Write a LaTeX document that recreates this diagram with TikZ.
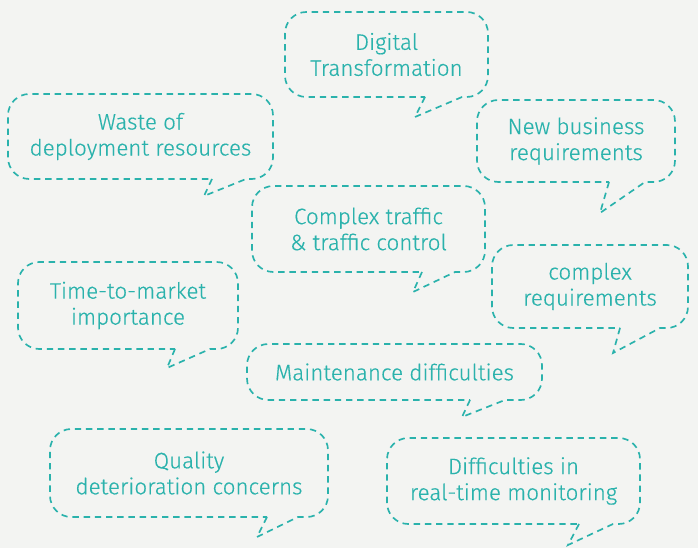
\documentclass[tikz,border=0pt]{standalone}
\usepackage{fontspec}
\setmainfont{Fira Sans Light}[FakeBold=0.4]
\definecolor{teal1}{HTML}{2AB2AC}
\definecolor{paper}{HTML}{F3F4F2}
\tikzset{
  bubble/.style={draw=teal1,line width=1.25pt,dash pattern=on 4.8pt off 3.6pt,line cap=butt},
  saying/.style={text=teal1,align=center,font=\fontsize{16.8}{19.5}\selectfont,inner sep=0pt}
}
\begin{document}
\begin{tikzpicture}[x=0.75pt,y=-0.75pt]
			\fill[paper] (0,0) rectangle (698,548);
			\useasboundingbox (0,0) rectangle (698,548);
			% name / left / top / right / bottom / tail base left / tip x / tip y / tail base right / text
			\foreach \n/\l/\t/\r/\b/\tl/\tx/\ty/\tr/\txt in {
				digital/285/12/488/97/425/415/117/462/{Digital\\Transformation},
				waste/8/94/273/179/212/204/196/246/{Waste of\\deployment resources},
				newbiz/477/100/675/182/609/600/213/645/{New business\\requirements},
				traffic/252/186/485/272/422/413/292/455/{Complex traffic\\\& traffic control},
				complexreq/492/245/688/328/620/613/353/660/{complex\\requirements},
				ttm/18/262/238/349/175/167/368/210/{Time-to-market\\importance},
				maint/247/344/542/400/470/462/417/505/{Maintenance difficulties},
				quality/50/429/328/517/267/257/537/298/{Quality\\deterioration concerns},
				monitor/387/438/640/524/579/568/545/613/{Difficulties in\\real-time monitoring}}
			{
				\draw[bubble] (\tl,\b) -- (\tx,\ty) -- (\tr,\b) [rounded corners=16pt] -- (\r,\b) -- (\r,\t) -- (\l,\t) -- (\l,\b) -- (\tl,\b);
				\node[saying] (\n) at ({(\l+\r)/2},{(\t+\b)/2}) {\txt};
			}
\end{tikzpicture}
\end{document}
